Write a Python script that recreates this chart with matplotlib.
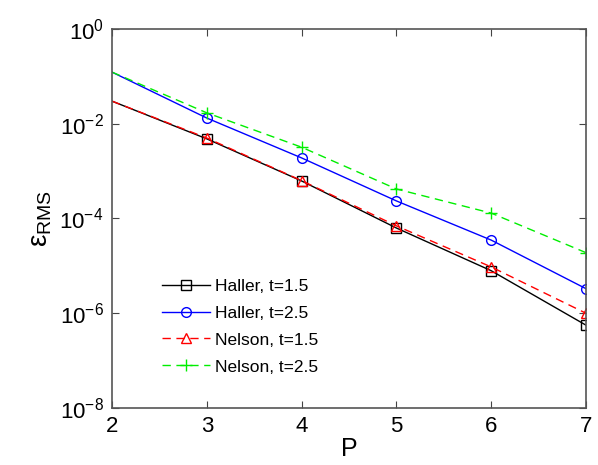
import matplotlib
matplotlib.use("Agg")
import matplotlib.pyplot as plt
from matplotlib.lines import Line2D
import numpy as np

P = [2, 3, 4, 5, 6, 7]
haller_15 = [0.030, 0.0048, 6.2e-4, 6.3e-5, 7.9e-6, 5.6e-7]
haller_25 = [0.123, 0.0132, 1.9e-3, 2.35e-4, 3.5e-5, 3.3e-6]
nelson_15 = [0.030, 0.0050, 6.3e-4, 7.0e-5, 9.5e-6, 1.0e-6]
nelson_25 = [0.123, 0.017, 3.2e-3, 4.2e-4, 1.3e-4, 1.9e-5]
labels = ["Haller, t=1.5", "Haller, t=2.5", "Nelson, t=1.5", "Nelson, t=2.5"]
xticks = [2, 3, 4, 5, 6, 7]
yticks = [1e-8, 1e-6, 1e-4, 1e-2, 1e0]

plt.rcParams['font.family'] = ['Liberation Sans', 'DejaVu Sans']
plt.rcParams['mathtext.fontset'] = 'custom'
plt.rcParams['mathtext.rm'] = 'Liberation Sans'
plt.rcParams['mathtext.it'] = 'Liberation Sans'

fig = plt.figure(figsize=(5.98, 4.65), dpi=100)
ax = fig.add_axes([112/598, 1-408/465, (586-112)/598, (408-29)/465])

styles = [
    dict(ls='-', color='black', marker='s', mfc='none', ms=7),
    dict(ls='-', color='blue', marker='o', mfc='none', ms=7),
    dict(ls=(0, (6, 4)), color='red', marker='^', mfc='none', ms=7),
    dict(ls=(0, (6, 4)), color='#00ee00', marker='+', ms=9),
]
series = [haller_15, haller_25, nelson_15, nelson_25]
handles = []
for data, st, lab in zip(series, styles, labels):
    ax.plot(P, data, lw=1, mew=1, markevery=list(range(1, len(P))), **st)
    handles.append(Line2D([], [], lw=1, mew=1, **st))

ax.set_yscale('log')
ax.set_xlim(2, 7)
ax.set_ylim(1e-8, 1)
ax.set_xticks(xticks)
ax.set_xticklabels([str(x) for x in xticks])
ax.set_yticks(yticks)
ax.yaxis.set_minor_locator(matplotlib.ticker.NullLocator())
ax.set_yticklabels([r'$10^{%d}$' % int(np.log10(v)) for v in yticks])
ax.tick_params(direction='in', top=True, right=True, labelsize=16, length=5, color='#444444', pad=6)
for s in ax.spines.values():
    s.set_color('#555555')
    s.set_linewidth(1.2)

ax.set_xlabel('P', fontsize=18, labelpad=0)
ax.set_ylabel(r'$\varepsilon_{\mathrm{RMS}}$', fontsize=20, labelpad=4)

leg = ax.legend(handles, labels, loc='lower left', bbox_to_anchor=(0.09, 0.07), frameon=False, fontsize=12.5,
                handlelength=2.8, handletextpad=0.3, labelspacing=0.68, borderaxespad=0)

fig.savefig('out.png', dpi=100)
